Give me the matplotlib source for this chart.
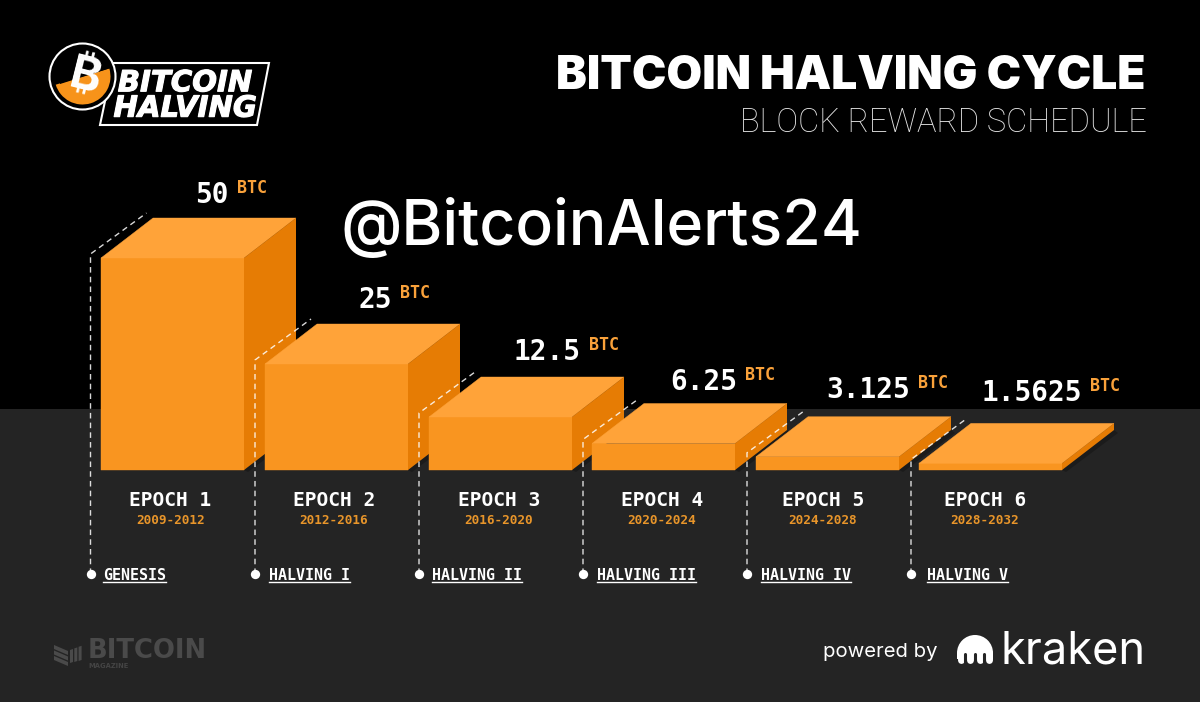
import matplotlib
matplotlib.use("Agg")
from matplotlib import pyplot as plt
from matplotlib.patches import Polygon, Circle, Wedge, Rectangle
from matplotlib import patheffects as pe

# chart values
rewards = [50, 25, 12.5, 6.25, 3.125, 1.5625]
reward_labels = ["50", "25", "12.5", "6.25", "3.125", "1.5625"]
epochs = ["EPOCH 1", "EPOCH 2", "EPOCH 3", "EPOCH 4", "EPOCH 5", "EPOCH 6"]
years = ["2009-2012", "2012-2016", "2016-2020", "2020-2024", "2024-2028", "2028-2032"]
halvings = ["GENESIS", "HALVING I", "HALVING II", "HALVING III", "HALVING IV", "HALVING V"]

# layout, figure is drawn in pixel units
bar_left = [101, 265, 429, 592, 756, 919]
bar_w = 143
base_y = 470
px_per_btc = 4.24
dx, dy = 52, 40
label_right = [229, 392, 581, 737, 910, 1082]
label_y = [195, 300, 352, 382, 390, 393]
epoch_x = [170.5, 334, 499, 662, 823, 985]
drop_x = [90.5, 255, 419, 583, 747, 911]
halving_x = [103, 269, 432, 597, 761, 927]

FRONT = "#f99520"
TOP = "#ffa339"
SIDE = "#e67c04"
DARK = "#242424"
MONO = "DejaVu Sans Mono"

fig = plt.figure(figsize=(12, 7.02), dpi=100, facecolor="black")
ax = fig.add_axes([0, 0, 1, 1])
ax.set_xlim(0, 1200)
ax.set_ylim(702, 0)
ax.axis("off")

ax.add_patch(Rectangle((0, 409), 1200, 293, color=DARK, lw=0, zorder=0))

# 3d blocks
for i in range(6):
    x = bar_left[i]
    h = rewards[i] * px_per_btc
    top = base_y - h
    # soft shadow on the grey floor
    ax.add_patch(Polygon([(x + bar_w, base_y), (x + bar_w + dx, base_y - dy),
                          (x + bar_w + dx + 4, base_y - dy + 3), (x + bar_w + 4, base_y + 2)],
                         color="#1b1b1b", lw=0, zorder=1))
    ax.bar(x + bar_w / 2, -h, bar_w, bottom=base_y, color=FRONT, edgecolor=FRONT, lw=0.3, zorder=2)
    ax.add_patch(Polygon([(x, top), (x + bar_w, top), (x + bar_w + dx, top - dy), (x + dx, top - dy)],
                         facecolor=TOP, edgecolor=TOP, lw=0.3, zorder=2))
    ax.add_patch(Polygon([(x + bar_w, top), (x + bar_w + dx, top - dy),
                          (x + bar_w + dx, base_y - dy), (x + bar_w, base_y)],
                         color=SIDE, lw=0, zorder=2))

    # dashed guide and halving label
    gx = drop_x[i]
    gy = top - 4
    ax.plot([gx, gx, gx + 56], [574, gy, gy - 41], color="white", lw=1, ls=(0, (4, 3)), zorder=3, alpha=0.85)
    ax.scatter([gx], [574], s=45, color="white", lw=0, zorder=4)
    ax.text(halving_x[i], 575, halvings[i], color="white", family=MONO, fontsize=10.8, weight="bold",
            ha="left", va="center", zorder=4)
    ax.plot([halving_x[i], halving_x[i] + 9.03 * len(halvings[i])], [582, 582], color="white", lw=1, zorder=4)

    # reward label
    ax.text(label_right[i], label_y[i], reward_labels[i], color="white", family=MONO, fontsize=20,
            weight="bold", ha="right", va="center", zorder=5)
    ax.text(label_right[i] + 8, label_y[i] - 7, "BTC", color="#f9a13a", family=MONO, fontsize=12,
            weight="bold", ha="left", va="center", zorder=5)

    ax.text(epoch_x[i], 501, epochs[i], color="white", family=MONO, fontsize=14, weight="bold",
            ha="center", va="center", zorder=5)
    ax.text(epoch_x[i], 520, years[i], color="#e8952a", family=MONO, fontsize=9.2, weight="bold",
            ha="center", va="center", zorder=5)

# titles
ax.text(1146, 77, "BITCOIN HALVING CYCLE", color="white", family="Inter", weight="black", fontsize=33.2,
        ha="right", va="center")
ax.text(1147, 123, "BLOCK REWARD SCHEDULE", color="#e6e6e6", family="Roboto", weight="light", fontsize=23.5,
        ha="right", va="center")
ax.text(341, 228, "@BitcoinAlerts24", color="white", family="Inter", weight="medium", fontsize=45,
        ha="left", va="center", zorder=6)

# logo badge
ax.add_patch(Polygon([(113, 63), (269, 63), (257, 125), (100, 125)], facecolor="black", edgecolor="white", lw=1.5))
ax.add_patch(Circle((82.5, 76.5), 33, facecolor="black", edgecolor="white", lw=1.5, zorder=3))
ax.add_patch(Wedge((82.5, 76.5), 28, 343, 163, color="#f7931a", lw=0, zorder=3))
cover = Polygon([(60, 84), (111, 68), (111, 50), (60, 50)], color="black", lw=0, zorder=3)
ax.add_patch(cover)
cover.set_clip_path(Circle((82.5, 76.5), 30, transform=ax.transData))
ax.text(85, 79, "\u20bf", color="white", family=["Inter", "Roboto", "Noto Sans", "Open Sans", "Lato", "Liberation Sans", "DejaVu Sans"],
        weight="bold", fontsize=34, rotation=-14, ha="center", va="center", zorder=4)
ax.text(185, 96, "BITCOIN\nHALVING", color="white", family="DejaVu Sans", weight="bold", style="oblique", fontsize=21,
        ha="center", va="center", ma="center", linespacing=0.88, zorder=4,
        path_effects=[pe.withStroke(linewidth=0.8, foreground="white")])

# bitcoin magazine mark
ax.text(88, 651, "BITCOIN", color="#4a4a4a", family="DejaVu Sans", weight="bold", fontsize=18.6, ha="left", va="center")
ax.text(88, 666, "MAGAZINE", color="#444444", family="DejaVu Sans", weight="bold", fontsize=4.9, ha="left", va="center")
for j in range(3):
    ax.add_patch(Polygon([(54, 645 + j * 5.5), (68, 651 + j * 5.5), (68, 655 + j * 5.5), (54, 649 + j * 5.5)],
                         color="#4a4a4a", lw=0))
    ax.add_patch(Polygon([(70 + j * 4.3, 650 - j * 1.6), (73 + j * 4.3, 649 - j * 1.6),
                          (73 + j * 4.3, 662 - j * 1), (70 + j * 4.3, 663 - j * 1)], color="#4a4a4a", lw=0))

# powered by kraken
ax.text(823, 652, "powered by", color="white", family="Inter", fontsize=14.6, ha="left", va="center")
ax.text(1000, 663, "kraken", color="white", family="Inter", fontsize=32.5, ha="left", va="baseline")
ax.add_patch(Wedge((975, 653), 18, 180, 360, color="white", lw=0))
ax.add_patch(Rectangle((957, 653), 36, 6, color="white", lw=0))
for j in range(4):
    ax.plot([960.5 + j * 9.6] * 2, [653, 660], color="white", lw=5, solid_capstyle="round")
for j in range(3):
    ax.plot([965.2 + j * 9.6] * 2, [654, 664], color=DARK, lw=2.2, solid_capstyle="round")

fig.savefig("out.png", dpi=100, facecolor="black")
